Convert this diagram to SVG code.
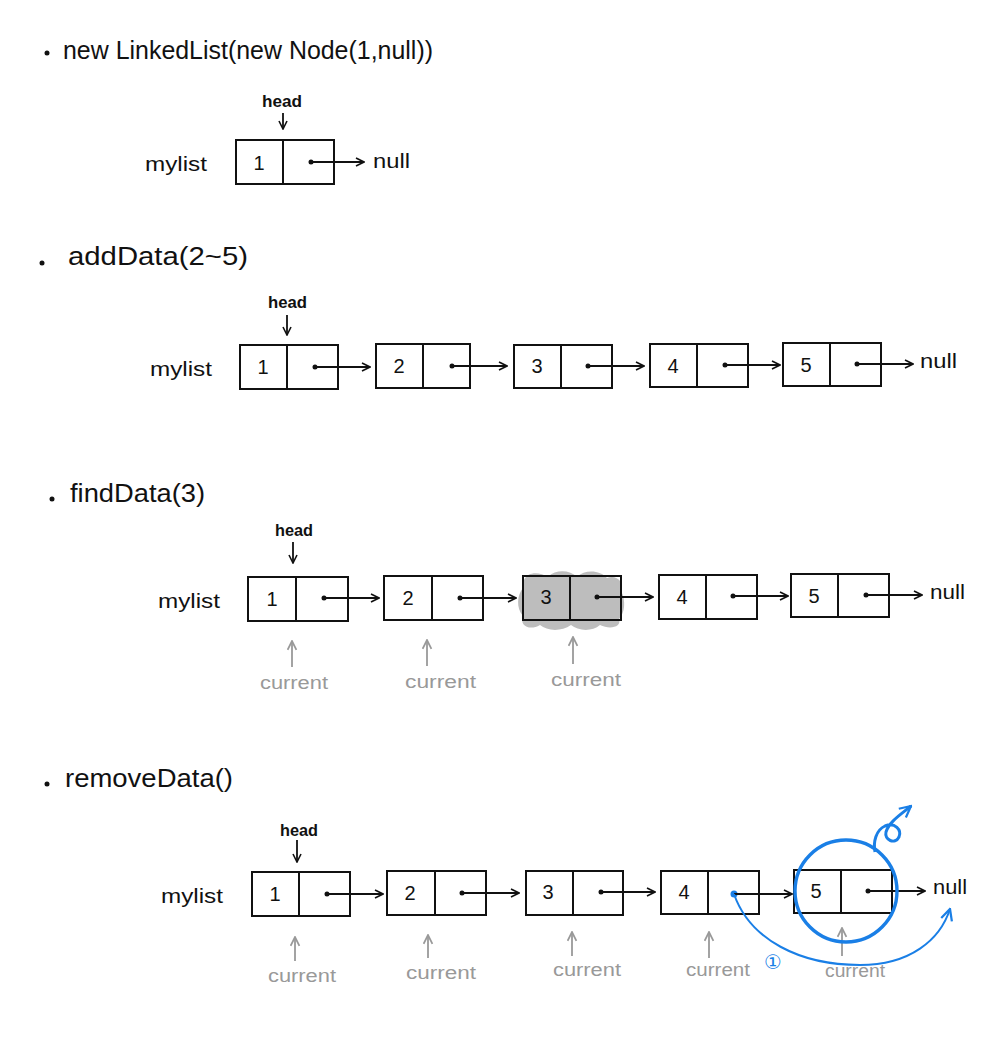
<svg xmlns="http://www.w3.org/2000/svg" width="1000" height="1050" viewBox="0 0 1000 1050">
<style>
text{font-family:"Liberation Sans","DejaVu Sans",sans-serif;fill:#111}
.title{font-size:26px}
.lbl{font-size:21px}
.head{font-size:16px;font-weight:bold}
.num{font-size:20px;text-anchor:middle}
.cur{font-size:18px;fill:#999}
.box{fill:none;stroke:#111;stroke-width:2}
.div{stroke:#111;stroke-width:2}
.ptr{stroke:#111;stroke-width:1.8;fill:none;marker-end:url(#ah)}
.hd{stroke:#111;stroke-width:1.8;fill:none;marker-end:url(#ah)}
.cu{stroke:#999;stroke-width:1.8;fill:none;marker-end:url(#ahg)}
.blue{stroke:#1a7fe6;fill:none}
</style>
<defs>
<marker id="ah" viewBox="0 0 10 10" refX="9" refY="5" markerWidth="10" markerHeight="10" markerUnits="userSpaceOnUse" orient="auto"><path d="M1,1 L9,5 L1,9" fill="none" stroke="#111" stroke-width="1.6"/></marker>
<marker id="ahg" viewBox="0 0 10 10" refX="9" refY="5" markerWidth="11" markerHeight="11" markerUnits="userSpaceOnUse" orient="auto"><path d="M1,1 L9,5 L1,9" fill="none" stroke="#999" stroke-width="1.6"/></marker>
<marker id="ahb" viewBox="0 0 10 10" refX="9" refY="5" markerWidth="14" markerHeight="14" markerUnits="userSpaceOnUse" orient="auto"><path d="M1,1 L9,5 L1,9" fill="none" stroke="#1a7fe6" stroke-width="1.6"/></marker>
</defs>
<rect width="1000" height="1050" fill="#fff"/>

<!-- Section 1 -->
<g id="sec1">
<circle cx="47" cy="53" r="2.5" fill="#111"/>
<text class="title" x="63" y="59" textLength="370" lengthAdjust="spacingAndGlyphs">new LinkedList(new Node(1,null))</text>
<text class="head" x="262" y="107" textLength="40" lengthAdjust="spacingAndGlyphs">head</text>
<text class="lbl" x="145" y="171" textLength="62" lengthAdjust="spacingAndGlyphs">mylist</text>
<text class="lbl" x="373" y="168" textLength="37" lengthAdjust="spacingAndGlyphs">null</text>
</g>
<g id="s1n1"><rect class="box" x="236" y="140" width="98" height="44"/><line class="div" x1="283" y1="140" x2="283" y2="184"/><text class="num" x="259" y="170">1</text><circle cx="311" cy="162" r="2.5" fill="#111"/></g>

<!-- Section 2 -->
<g id="sec2">
<circle cx="42" cy="263" r="2.5" fill="#111"/>
<text class="title" x="68" y="265" textLength="180" lengthAdjust="spacingAndGlyphs">addData(2~5)</text>
<text class="head" x="268" y="308" textLength="39" lengthAdjust="spacingAndGlyphs">head</text>
<text class="lbl" x="150" y="376" textLength="62" lengthAdjust="spacingAndGlyphs">mylist</text>
<text class="lbl" x="920" y="368" textLength="37" lengthAdjust="spacingAndGlyphs">null</text>
</g>
<g id="s2n1"><rect class="box" x="240" y="345" width="98" height="44"/><line class="div" x1="287" y1="345" x2="287" y2="389"/><text class="num" x="263" y="374">1</text><circle cx="315" cy="367" r="2.5" fill="#111"/></g>
<g id="s2n2"><rect class="box" x="376" y="344" width="94" height="44"/><line class="div" x1="423" y1="344" x2="423" y2="388"/><text class="num" x="399" y="373">2</text><circle cx="452" cy="366" r="2.5" fill="#111"/></g>
<g id="s2n3"><rect class="box" x="514" y="345" width="98" height="43"/><line class="div" x1="561" y1="345" x2="561" y2="388"/><text class="num" x="537" y="373">3</text><circle cx="588" cy="366" r="2.5" fill="#111"/></g>
<g id="s2n4"><rect class="box" x="650" y="344" width="98" height="43"/><line class="div" x1="697" y1="344" x2="697" y2="387"/><text class="num" x="673" y="373">4</text><circle cx="725" cy="365" r="2.5" fill="#111"/></g>
<g id="s2n5"><rect class="box" x="783" y="343" width="98" height="43"/><line class="div" x1="830" y1="343" x2="830" y2="386"/><text class="num" x="806" y="372">5</text><circle cx="857" cy="364" r="2.5" fill="#111"/></g>

<!-- Section 3 -->
<g id="sec3">
<circle cx="52" cy="499" r="2.5" fill="#111"/>
<text class="title" x="70" y="502" textLength="135" lengthAdjust="spacingAndGlyphs">findData(3)</text>
<text class="head" x="275" y="536" textLength="38" lengthAdjust="spacingAndGlyphs">head</text>
<text class="lbl" x="158" y="608" textLength="62" lengthAdjust="spacingAndGlyphs">mylist</text>
<text class="lbl" x="930" y="599" textLength="35" lengthAdjust="spacingAndGlyphs">null</text>
<text class="cur" x="260" y="689" textLength="68" lengthAdjust="spacingAndGlyphs">current</text>
<text class="cur" x="405" y="688" textLength="71" lengthAdjust="spacingAndGlyphs">current</text>
<text class="cur" x="551" y="686" textLength="70" lengthAdjust="spacingAndGlyphs">current</text>
</g>
<g id="s3n1"><rect class="box" x="248" y="577" width="100" height="44"/><line class="div" x1="296" y1="577" x2="296" y2="621"/><text class="num" x="272" y="606">1</text><circle cx="324" cy="598" r="2.5" fill="#111"/></g>
<g id="s3n2"><rect class="box" x="384" y="576" width="99" height="44"/><line class="div" x1="432" y1="576" x2="432" y2="620"/><text class="num" x="408" y="605">2</text><circle cx="460" cy="598" r="2.5" fill="#111"/></g>
<g id="s3n3">
<path d="M524,580 C528,571 540,572 548,577 C556,569 570,570 577,577 C585,569 600,570 607,578 C616,574 625,582 621,591 C626,600 625,613 619,619 C622,627 610,630 600,625 C592,632 578,631 571,625 C561,632 547,631 540,625 C530,631 519,626 523,616 C516,608 517,595 523,588 Z" fill="#bdbdbd"/>
<rect class="box" x="523" y="576" width="98" height="44"/><line class="div" x1="570" y1="576" x2="570" y2="620"/><text class="num" x="546" y="604">3</text><circle cx="597" cy="597" r="2.5" fill="#111"/></g>
<g id="s3n4"><rect class="box" x="659" y="575" width="98" height="44"/><line class="div" x1="706" y1="575" x2="706" y2="619"/><text class="num" x="682" y="604">4</text><circle cx="733" cy="596" r="2.5" fill="#111"/></g>
<g id="s3n5"><rect class="box" x="791" y="574" width="98" height="43"/><line class="div" x1="838" y1="574" x2="838" y2="617"/><text class="num" x="814" y="603">5</text><circle cx="866" cy="595" r="2.5" fill="#111"/></g>

<!-- Section 4 -->
<g id="sec4">
<circle cx="47" cy="784" r="2.5" fill="#111"/>
<text class="title" x="65" y="787" textLength="168" lengthAdjust="spacingAndGlyphs">removeData()</text>
<text class="head" x="280" y="836" textLength="38" lengthAdjust="spacingAndGlyphs">head</text>
<text class="lbl" x="161" y="903" textLength="62" lengthAdjust="spacingAndGlyphs">mylist</text>
<text class="lbl" x="933" y="894" textLength="34" lengthAdjust="spacingAndGlyphs">null</text>
<text class="cur" x="268" y="982" textLength="68" lengthAdjust="spacingAndGlyphs">current</text>
<text class="cur" x="406" y="979" textLength="70" lengthAdjust="spacingAndGlyphs">current</text>
<text class="cur" x="553" y="976" textLength="68" lengthAdjust="spacingAndGlyphs">current</text>
<text class="cur" x="686" y="976" textLength="64" lengthAdjust="spacingAndGlyphs">current</text>
<text class="cur" x="825" y="977" textLength="60" lengthAdjust="spacingAndGlyphs">current</text>
</g>
<g id="s4n1"><rect class="box" x="252" y="872" width="98" height="44"/><line class="div" x1="299" y1="872" x2="299" y2="916"/><text class="num" x="275" y="901">1</text><circle cx="327" cy="894" r="2.5" fill="#111"/></g>
<g id="s4n2"><rect class="box" x="387" y="871" width="99" height="44"/><line class="div" x1="435" y1="871" x2="435" y2="915"/><text class="num" x="410" y="900">2</text><circle cx="462" cy="893" r="2.5" fill="#111"/></g>
<g id="s4n3"><rect class="box" x="526" y="871" width="97" height="44"/><line class="div" x1="573" y1="871" x2="573" y2="915"/><text class="num" x="548" y="899">3</text><circle cx="601" cy="892" r="2.5" fill="#111"/></g>
<g id="s4n4"><rect class="box" x="661" y="871" width="98" height="43"/><line class="div" x1="708" y1="871" x2="708" y2="914"/><text class="num" x="684" y="899">4</text><circle cx="734" cy="894" r="3.5" fill="#1a7fe6"/></g>
<g id="s4n5"><rect class="box" x="794" y="870" width="98" height="43"/><line class="div" x1="841" y1="870" x2="841" y2="913"/><text class="num" x="816" y="898">5</text><circle cx="868" cy="891" r="2.5" fill="#111"/></g>

<!-- connectors -->
<g id="connectors">
<line class="hd" x1="283" y1="113" x2="283" y2="129"/>
<line class="ptr" x1="311" y1="162" x2="364" y2="162"/>

<line class="hd" x1="287" y1="315" x2="287" y2="335"/>
<line class="ptr" x1="315" y1="367" x2="370" y2="367"/>
<line class="ptr" x1="452" y1="366" x2="507" y2="366"/>
<line class="ptr" x1="588" y1="366" x2="644" y2="366"/>
<line class="ptr" x1="725" y1="365" x2="780" y2="365"/>
<line class="ptr" x1="857" y1="364" x2="913" y2="364"/>

<line class="hd" x1="293" y1="542" x2="293" y2="563"/>
<line class="ptr" x1="324" y1="598" x2="379" y2="598"/>
<line class="ptr" x1="460" y1="598" x2="516" y2="598"/>
<line class="ptr" x1="597" y1="597" x2="653" y2="597"/>
<line class="ptr" x1="733" y1="596" x2="788" y2="596"/>
<line class="ptr" x1="866" y1="595" x2="922" y2="595"/>
<line class="cu" x1="292" y1="667" x2="292" y2="641"/>
<line class="cu" x1="427" y1="666" x2="427" y2="640"/>
<line class="cu" x1="573" y1="664" x2="573" y2="637"/>

<line class="hd" x1="297" y1="840" x2="297" y2="862"/>
<line class="ptr" x1="327" y1="894" x2="383" y2="894"/>
<line class="ptr" x1="462" y1="893" x2="519" y2="893"/>
<line class="ptr" x1="601" y1="892" x2="655" y2="892"/>
<line class="ptr" x1="734" y1="894" x2="792" y2="894"/>
<line class="ptr" x1="868" y1="891" x2="925" y2="891"/>
<line class="cu" x1="295" y1="961" x2="295" y2="937"/>
<line class="cu" x1="428" y1="958" x2="428" y2="935"/>
<line class="cu" x1="572" y1="956" x2="572" y2="932"/>
<line class="cu" x1="709" y1="958" x2="709" y2="932"/>
<line class="cu" x1="842" y1="956" x2="842" y2="928"/>

<circle class="blue" cx="846" cy="891" r="51" style="stroke-width:3.4"/>
<path class="blue" style="stroke-width:3" d="M875,852 C873,842 876,830 885,826 C895,822 902,830 899,837 C895,845 884,840 886,832 C889,822 900,815 911,806" marker-end="url(#ahb)"/>
<path class="blue" style="stroke-width:2" d="M734,894 C750,940 800,965 860,965 C910,965 940,940 950,909" marker-end="url(#ahb)"/>
<text x="773" y="969" style="font-size:20px;fill:#1a7fe6;text-anchor:middle">①</text>
</g>
</svg>
